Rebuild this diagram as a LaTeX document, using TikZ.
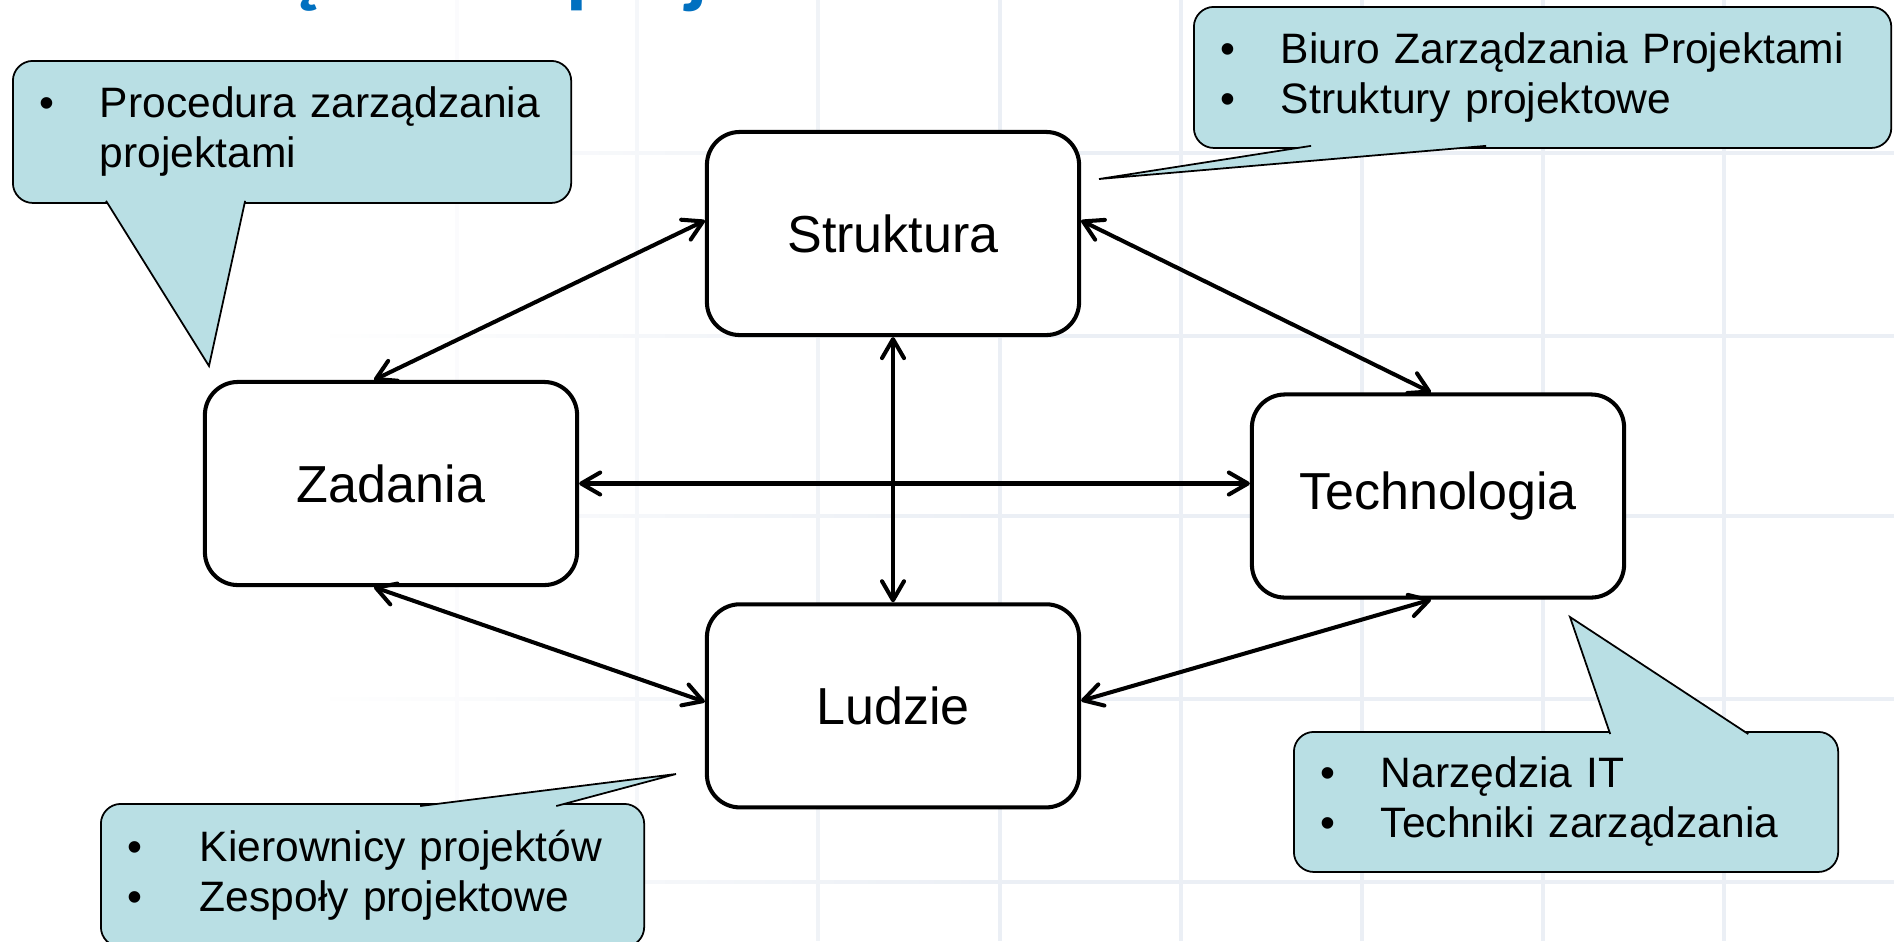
\documentclass[tikz,border=0pt]{standalone}
\usepackage{fontspec}
\setmainfont{Liberation Sans}
\newfontfamily\titlefont{Carlito}
\usetikzlibrary{positioning, arrows.meta, fadings}

\definecolor{calloutfill}{RGB}{185,223,228}
\definecolor{gridline}{RGB}{235,239,245}
\definecolor{titleblue}{RGB}{0,112,192}

\newcommand\nbul[1][6mm]{\makebox[#1][l]{\textbullet}}
\newcommand\nind{\hspace*{6mm}}

\begin{document}
\begin{tikzpicture}[x=0.01cm, y=-0.01cm,
    block/.style={draw, line width=1.15pt, rounded corners=3.3mm, fill=white,
      minimum width=3.72cm, minimum height=2.03cm, align=center,
      font=\fontsize{14.8}{17}\selectfont},
    note/.style={draw, line width=0.5pt, rounded corners=2mm, fill=calloutfill,
      anchor=north west, inner xsep=2.7mm, inner ysep=0pt, align=left,
      font=\fontsize{12.1}{14.2}\selectfont},
    tail/.style={fill=calloutfill},
    link/.style={line width=1.15pt, <->},
    >={Straight Barb[length=1.9mm, width=2.2mm, round]}]
  \useasboundingbox (0,0) rectangle (1894,941);
  \clip (0,0) rectangle (1894,941);
  \fill[white] (0,0) rectangle (1894,941);

  % background grid, fading out to the left
  \foreach \gx in {457,637,818,1000,1181,1362,1543,1724}
    \draw[gridline, line width=1.4pt] (\gx,0) -- (\gx,941);
  \foreach \gy in {153,336,516,699,882}
    \draw[gridline, line width=1.4pt] (0,\gy) -- (1894,\gy);
  \fill[white] (0,0) rectangle (330,941);
  \fill[white, path fading=east] (329,0) rectangle (1000,941);

  % slide title, cut off at the top
  \node[font={\titlefont\bfseries\fontsize{24.2}{29}\selectfont}, text=titleblue,
    anchor=base west, inner sep=0pt] (title) at (128,-3) {Zarządzanie projektami};

  % callouts
  \node[note, minimum height=1.42cm, text width=5.04cm] (co1) at (12,60)
    {\nbul Procedura zarządzania\\\nind projektami};
  \node[note, minimum height=1.41cm, text width=6.43cm] (co2) at (1193,6)
    {\nbul Biuro Zarządzania Projektami\\\nbul Struktury projektowe};
  \node[note, minimum height=1.43cm, text width=4.89cm] (co3) at (100,803)
    {\nbul[7.2mm]Kierownicy projektów\\\nbul[7.2mm]Zespoły projektowe};
  \node[note, minimum height=1.40cm, text width=4.90cm] (co4) at (1293,731)
    {\nbul Narzędzia IT\\\nbul Techniki zarządzania};

  \coordinate (t1) at (209,366);
  \coordinate (t2) at (1099,179);
  \coordinate (t3) at (676,774);
  \coordinate (t4) at (1570,617);

  \fill[tail] ([xshift=9.4mm, yshift=0.3mm]co1.south west) -- (t1)
    -- ([xshift=23.3mm, yshift=0.3mm]co1.south west) -- cycle;
  \draw[line width=0.5pt] ([xshift=9.4mm, yshift=0.3mm]co1.south west) -- (t1)
    -- ([xshift=23.3mm, yshift=0.3mm]co1.south west);
  \fill[tail] ([xshift=11.8mm, yshift=0.3mm]co2.south west) -- (t2)
    -- ([xshift=29.3mm, yshift=0.3mm]co2.south west) -- cycle;
  \draw[line width=0.5pt] ([xshift=11.8mm, yshift=0.3mm]co2.south west) -- (t2)
    -- ([xshift=29.3mm, yshift=0.3mm]co2.south west);
  \fill[tail] ([xshift=32mm, yshift=-0.3mm]co3.north west) -- (t3)
    -- ([xshift=45.6mm, yshift=-0.3mm]co3.north west) -- cycle;
  \draw[line width=0.5pt] ([xshift=32mm, yshift=-0.3mm]co3.north west) -- (t3)
    -- ([xshift=45.6mm, yshift=-0.3mm]co3.north west);
  \fill[tail] ([xshift=31.7mm, yshift=-0.3mm]co4.north west) -- (t4)
    -- ([xshift=45.5mm, yshift=-0.3mm]co4.north west) -- cycle;
  \draw[line width=0.5pt] ([xshift=31.7mm, yshift=-0.3mm]co4.north west) -- (t4)
    -- ([xshift=45.5mm, yshift=-0.3mm]co4.north west);

  % the four areas
  \node[block] (str) at (893,233.5) {Struktura};
  \node[block, below=2.65cm of str] (lud) {Ludzie};
  \node[block] (zad) at (391,483.5) {Zadania};
  \node[block] (tech) at (1438,496) {Technologia};

  \draw[link] ([xshift=-1.7mm]zad.north) -- ([yshift=1.3mm]str.west);
  \draw[link] ([yshift=1.3mm]str.east) -- ([xshift=-0.7mm]tech.north);
  \draw[link] (zad.east) -- (zad.east -| tech.west);
  \draw[link] (str.south) -- (lud.north);
  \draw[link] ([xshift=-1.7mm]zad.south) -- ([yshift=0.4mm]lud.west);
  \draw[link] ([yshift=0.5mm]lud.east) -- ([xshift=-0.7mm]tech.south);
\end{tikzpicture}
\end{document}
